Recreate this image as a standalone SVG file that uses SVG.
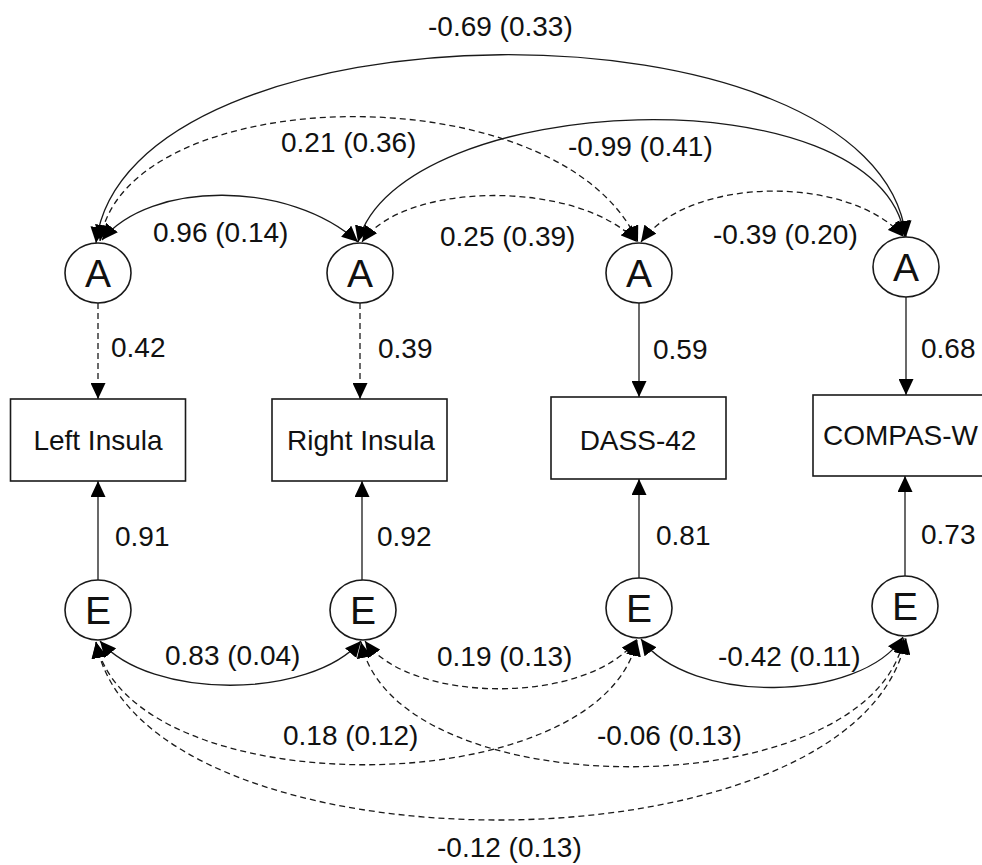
<svg xmlns="http://www.w3.org/2000/svg" width="982" height="865" viewBox="0 0 982 865">
<style>
.bg{fill:#ffffff}
.node{fill:#ffffff;stroke:#1a1a1a;stroke-width:1.6}
.nt{font-family:"Liberation Sans",Arial,sans-serif;font-size:28px;fill:#111;text-anchor:middle}
.lt{font-family:"Liberation Sans",Arial,sans-serif;font-size:39px;fill:#111;text-anchor:middle}
.lab{font-family:"Liberation Sans",Arial,sans-serif;font-size:28px;fill:#111}
.c{fill:none;stroke:#1a1a1a;stroke-width:1.3}
.d{stroke-dasharray:6 4}
</style>
<defs>
<marker id="ah" viewBox="0 0 16 15" refX="16" refY="7.5" markerWidth="16" markerHeight="15" markerUnits="userSpaceOnUse" orient="auto-start-reverse">
<path d="M0,0 L16,7.5 L0,15 Z" fill="#000" stroke="none"/>
</marker>
</defs>
<rect class="bg" x="0" y="0" width="982" height="865"/>

<g id="connectors">
<!-- A covariances -->
<path class="c" d="M96,243 C126,-4 876,-10 906,237" marker-start="url(#ah)" marker-end="url(#ah)"/>
<path class="c d" d="M100,241 C125,80 560,70 638,242" marker-start="url(#ah)" marker-end="url(#ah)"/>
<path class="c" d="M358,242 C400,90 880,70 905,237" marker-start="url(#ah)" marker-end="url(#ah)"/>
<path class="c" d="M102,240 C150,180 290,180 358,242" marker-start="url(#ah)" marker-end="url(#ah)"/>
<path class="c d" d="M362,242 C405,180 580,180 637,242" marker-start="url(#ah)" marker-end="url(#ah)"/>
<path class="c d" d="M641,242 C690,175 850,175 904,237" marker-start="url(#ah)" marker-end="url(#ah)"/>
<!-- A loadings -->
<path class="c d" d="M98,303 L98,399" marker-end="url(#ah)"/>
<path class="c d" d="M360,303 L360,399" marker-end="url(#ah)"/>
<path class="c" d="M639,303 L639,397" marker-end="url(#ah)"/>
<path class="c" d="M906,297 L906,395" marker-end="url(#ah)"/>
<!-- E loadings -->
<path class="c" d="M98,580 L98,481" marker-end="url(#ah)"/>
<path class="c" d="M362,580 L362,481" marker-end="url(#ah)"/>
<path class="c" d="M639,578 L639,479" marker-end="url(#ah)"/>
<path class="c" d="M905,576 L905,476" marker-end="url(#ah)"/>
<!-- E covariances -->
<path class="c" d="M100,641 C150,700 310,700 361,641" marker-start="url(#ah)" marker-end="url(#ah)"/>
<path class="c d" d="M365,641 C410,705 590,705 637,639" marker-start="url(#ah)" marker-end="url(#ah)"/>
<path class="c" d="M641,639 C690,705 860,703 903,637" marker-start="url(#ah)" marker-end="url(#ah)"/>
<path class="c d" d="M96,642 C130,806 600,806 637,640" marker-start="url(#ah)" marker-end="url(#ah)"/>
<path class="c d" d="M361,642 C395,809 870,809 904,638" marker-start="url(#ah)" marker-end="url(#ah)"/>
<path class="c d" d="M96,642 C140,880 860,880 906,638" marker-start="url(#ah)" marker-end="url(#ah)"/>
</g>

<g id="labels">
<text class="lab" x="428" y="36">-0.69 (0.33)</text>
<text class="lab" x="281" y="152">0.21 (0.36)</text>
<text class="lab" x="568" y="156">-0.99 (0.41)</text>
<text class="lab" x="153" y="242">0.96 (0.14)</text>
<text class="lab" x="440" y="246">0.25 (0.39)</text>
<text class="lab" x="713" y="244">-0.39 (0.20)</text>
<text class="lab" x="111" y="357">0.42</text>
<text class="lab" x="378" y="358">0.39</text>
<text class="lab" x="653" y="359">0.59</text>
<text class="lab" x="921" y="358">0.68</text>
<text class="lab" x="115" y="546">0.91</text>
<text class="lab" x="377" y="546">0.92</text>
<text class="lab" x="656" y="545">0.81</text>
<text class="lab" x="921" y="544">0.73</text>
<text class="lab" x="165" y="665">0.83 (0.04)</text>
<text class="lab" x="437" y="666">0.19 (0.13)</text>
<text class="lab" x="718" y="666">-0.42 (0.11)</text>
<text class="lab" x="283" y="745">0.18 (0.12)</text>
<text class="lab" x="597" y="745">-0.06 (0.13)</text>
<text class="lab" x="437" y="857">-0.12 (0.13)</text>
</g>

<g id="A1"><ellipse class="node" cx="98" cy="273" rx="33" ry="30"/><text class="lt" x="98" y="287">A</text></g>
<g id="A2"><ellipse class="node" cx="360" cy="273" rx="33" ry="30"/><text class="lt" x="360" y="287">A</text></g>
<g id="A3"><ellipse class="node" cx="639" cy="273" rx="33" ry="30"/><text class="lt" x="639" y="287">A</text></g>
<g id="A4"><ellipse class="node" cx="906" cy="267" rx="33" ry="30"/><text class="lt" x="906" y="281">A</text></g>

<g id="LeftInsula"><rect class="node" x="10.5" y="399" width="175" height="82"/><text class="nt" x="98" y="450">Left Insula</text></g>
<g id="RightInsula"><rect class="node" x="272" y="399" width="175" height="82"/><text class="nt" x="361" y="450">Right Insula</text></g>
<g id="DASS42"><rect class="node" x="551" y="397" width="175" height="82"/><text class="nt" x="638" y="450">DASS-42</text></g>
<g id="COMPASW"><rect class="node" x="813" y="395" width="186" height="81"/><text class="nt" x="823" y="445" style="text-anchor:start">COMPAS-W</text></g>

<g id="E1"><ellipse class="node" cx="98" cy="610" rx="33" ry="30"/><text class="lt" x="98" y="624">E</text></g>
<g id="E2"><ellipse class="node" cx="363" cy="610" rx="33" ry="30"/><text class="lt" x="363" y="624">E</text></g>
<g id="E3"><ellipse class="node" cx="639" cy="608" rx="33" ry="30"/><text class="lt" x="639" y="622">E</text></g>
<g id="E4"><ellipse class="node" cx="905" cy="606" rx="33" ry="30"/><text class="lt" x="905" y="620">E</text></g>
</svg>
